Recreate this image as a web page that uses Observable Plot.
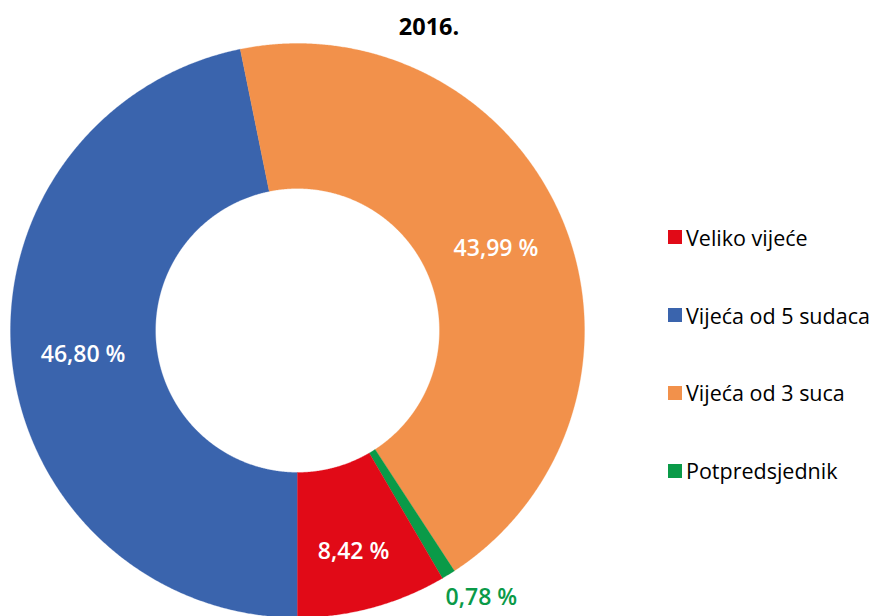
<!DOCTYPE html>
<html>
<head>
<meta charset="utf-8">
<script src="https://cdn.jsdelivr.net/npm/d3@7"></script>
<script src="https://cdn.jsdelivr.net/npm/@observablehq/plot@0.6"></script>
<style>
  html, body { margin: 0; padding: 0; background: #fff; }
  #wrap { position: relative; width: 871px; height: 616px; overflow: hidden; font-family: "Open Sans", sans-serif; }
  #legend { position: absolute; left: 668px; top: 0; }
  .item { position: absolute; left: 0; display: flex; align-items: center; white-space: nowrap; font-size: 21.5px; color: #000; }
  .sw { width: 14px; height: 14px; margin-right: 4px; flex: none; }
</style>
</head>
<body>
<div id="wrap"><div id="legend"></div></div>
<script>
// Data (legend order)
const categories = ["Veliko vijeće", "Vijeća od 5 sudaca", "Vijeća od 3 suca", "Potpredsjednik"];
const values = [8.42, 46.80, 43.99, 0.78];
const labels = ["8,42 %", "46,80 %", "43,99 %", "0,78 %"];
const colors = ["#E10A17", "#3A64AD", "#F2914B", "#0A9A48"];
const title = "2016.";

// drawing order: clockwise from 6 o'clock
const drawOrder = ["Vijeća od 5 sudaca", "Vijeća od 3 suca", "Potpredsjednik", "Veliko vijeće"];

const W = 871, H = 616;
const cx = 297, cy = 330;        // centre in pixels
const rOuter = 287, rInner = 142;

const rows = drawOrder.map(c => {
  const i = categories.indexOf(c);
  return {cat: c, value: values[i], label: labels[i]};
});
const pie = d3.pie().value(d => d.value).sort(null).startAngle(Math.PI).endAngle(3 * Math.PI);
const arcs = pie(rows);

// build polygon points for each slice
const pts = [];
for (const a of arcs) {
  const n = Math.max(4, Math.ceil((a.endAngle - a.startAngle) / 0.005));
  const ring = [];
  for (let k = 0; k <= n; k++) {
    const t = a.startAngle + (a.endAngle - a.startAngle) * k / n;
    ring.push({x: rOuter * Math.sin(t), y: rOuter * Math.cos(t)});
  }
  for (let k = n; k >= 0; k--) {
    const t = a.startAngle + (a.endAngle - a.startAngle) * k / n;
    ring.push({x: rInner * Math.sin(t), y: rInner * Math.cos(t)});
  }
  ring.push(ring[0]);
  for (const p of ring) pts.push({...p, cat: a.data.cat});
}

// label positions: centroid of each slice, with small offsets
const offsets = {
  "Veliko vijeće": [0, -14, "white"],
  "Vijeća od 5 sudaca": [-1, -3, "white"],
  "Vijeća od 3 suca": [0, 0, "white"],
  "Potpredsjednik": [null, null, "#0A9A48"]
};
const labelRows = arcs.map(a => {
  const m = (a.startAngle + a.endAngle) / 2;
  const o = offsets[a.data.cat];
  let r = (rOuter + rInner) / 2;
  let dx = o[0], dy = o[1];
  if (o[0] === null) { r = rOuter + 38; dx = 13; dy = 9; }
  return {x: r * Math.sin(m) + dx, y: r * Math.cos(m) + dy, label: a.data.label, color: o[2]};
});

const chart = Plot.plot({
  width: W,
  height: H,
  margin: 0,
  x: {domain: [-cx, W - cx], axis: null},
  y: {domain: [cy - H, cy], axis: null},
  color: {domain: categories, range: colors},
  style: {fontFamily: "Open Sans, sans-serif", background: "white"},
  marks: [
    Plot.line(pts, {x: "x", y: "y", z: "cat", fill: "cat", stroke: "cat", strokeWidth: 0.3, curve: "linear"}),
    Plot.text(labelRows, {x: "x", y: "y", text: "label", fill: d => d.color, fontSize: 23, fontWeight: 600}),
    Plot.text([title], {frameAnchor: "top", text: d => d, dx: -7, dy: 27, lineAnchor: "middle", fontSize: 23.5, fontWeight: 700, fill: "black"})
  ]
});

const wrap = document.getElementById("wrap");
wrap.insertBefore(chart, wrap.firstChild);

// legend
const legend = document.getElementById("legend");
const legendY = [237, 315, 392.5, 470.5];
categories.forEach((c, i) => {
  const item = document.createElement("div");
  item.className = "item";
  item.style.top = (legendY[i] - 15) + "px";
  item.style.height = "30px";
  const sw = document.createElement("span");
  sw.className = "sw";
  sw.style.background = colors[i];
  const tx = document.createElement("span");
  tx.textContent = c;
  item.appendChild(sw);
  item.appendChild(tx);
  legend.appendChild(item);
});
</script>
</body>
</html>
